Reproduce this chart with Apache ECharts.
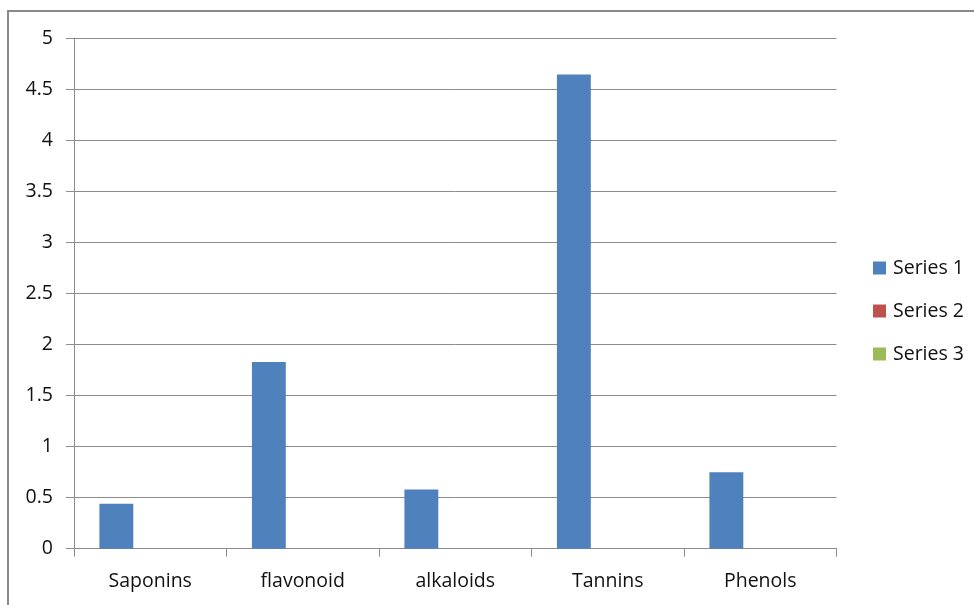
<!DOCTYPE html>
<html>
<head>
<meta charset="utf-8">
<title>Phytochemical content</title>
<script src="https://cdn.jsdelivr.net/npm/echarts@6/dist/echarts.min.js"></script>
<style>
  html, body { margin: 0; padding: 0; background: #fff; overflow: hidden; }
  #wrap { position: relative; width: 974px; height: 605px; overflow: hidden; }
  #frame {
    position: absolute; left: 7px; top: 10px; width: 1200px; height: 800px;
    border-top: 2px solid #8a8a8a; border-left: 2px solid #8a8a8a;
  }
  #chart { position: absolute; left: 0; top: 0; width: 974px; height: 605px; }
</style>
</head>
<body>
<div id="wrap">
  <div id="frame"></div>
  <div id="chart"></div>
</div>
<script>
// Categories and measured values
const categories = ['Saponins', 'flavonoid', 'alkaloids', 'Tannins', 'Phenols'];
const series1 = [0.44, 1.83, 0.58, 4.65, 0.75];
const series2 = [null, null, null, null, null];
const series3 = [null, null, null, null, null];
const seriesNames = ['Series 1', 'Series 2', 'Series 3'];
const yTicks = { min: 0, max: 5, step: 0.5 };

const FONT = '"Open Sans", "Noto Sans", sans-serif';
const TEXT_COLOR = '#111';
const GRID_COLOR = '#8c8c8c';
const COLORS = ['#4F81BD', '#C0504D', '#9BBB59'];

const chart = echarts.init(document.getElementById('chart'), null, { renderer: 'canvas' });

const dataSets = [series1, series2, series3];

chart.setOption({
  animation: false,
  color: COLORS,
  grid: { left: 74, right: 137.5, top: 38.7, bottom: 56.3, containLabel: false },
  legend: {
    orient: 'vertical',
    left: 873,
    top: 258,
    padding: 0,
    itemWidth: 13,
    itemHeight: 13,
    itemGap: 23,
    icon: 'rect',
    data: seriesNames,
    textStyle: { fontFamily: FONT, fontSize: 19.5, color: TEXT_COLOR, lineHeight: 20, padding: [0, 0, 0, 2] }
  },
  xAxis: {
    type: 'category',
    data: categories,
    boundaryGap: true,
    axisLine: { show: true, lineStyle: { color: GRID_COLOR, width: 1 } },
    axisTick: { show: true, length: 8, lineStyle: { color: GRID_COLOR } },
    axisLabel: { fontFamily: FONT, fontSize: 19.5, color: TEXT_COLOR, margin: 23 },
    splitLine: { show: false }
  },
  yAxis: {
    type: 'value',
    min: yTicks.min,
    max: yTicks.max,
    interval: yTicks.step,
    axisLine: { show: true, lineStyle: { color: GRID_COLOR, width: 1 } },
    axisTick: { show: true, length: 8, lineStyle: { color: GRID_COLOR } },
    axisLabel: { fontFamily: FONT, fontSize: 19.5, color: TEXT_COLOR, margin: 21 },
    splitLine: { show: true, lineStyle: { color: GRID_COLOR, width: 1 } }
  },
  series: seriesNames.map((name, i) => ({
    name: name,
    type: 'bar',
    data: dataSets[i],
    barGap: '0%',
    barCategoryGap: '33.33%',
    itemStyle: { color: COLORS[i] }
  }))
});
</script>
</body>
</html>
